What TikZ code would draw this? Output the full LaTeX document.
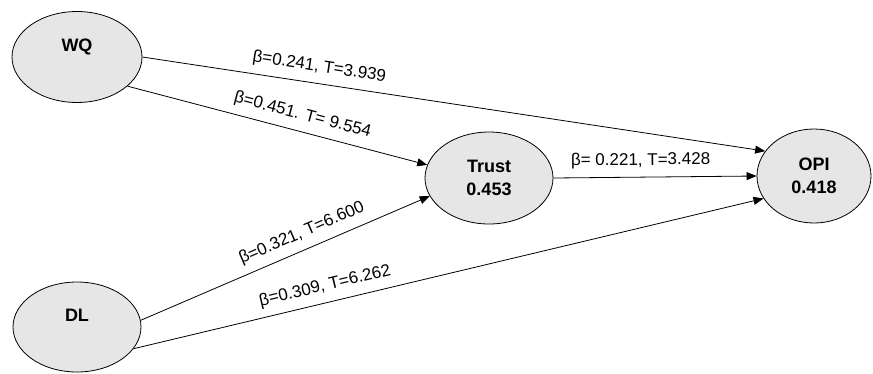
\documentclass[tikz,border=0pt]{standalone}
\usepackage{fontspec}
\setmainfont{Liberation Sans}
\usepackage{tikz}
\usetikzlibrary{shapes,arrows.meta,positioning}
\definecolor{latentfill}{HTML}{E6E6E6}
\tikzstyle{latent}=[ellipse,fill=latentfill,draw=black,line width=0.8pt,align=center,inner sep=3pt,font=\bfseries\fontsize{18}{23}\selectfont]
\tikzstyle{mypath}=[-{Triangle[length=10pt,width=8pt]},line width=0.8pt]
\tikzstyle{coef}=[sloped,above=6pt,inner sep=2pt,font=\fontsize{17}{20}\selectfont]

\begin{document}
\begin{tikzpicture}[x=1pt,y=-1pt]
                \useasboundingbox (0,0) rectangle (873,373);

                \node[latent,minimum width=130pt,minimum height=91pt] (wq) at (77,57) {WQ\\\mbox{}};
                \node[latent,minimum width=128pt,minimum height=90pt] (dl) at (77,327) {DL\\\mbox{}};
                \node[latent,minimum width=128pt,minimum height=92pt] (trust) at (489,178) {Trust\\0.453};
                \node[latent,minimum width=114pt,minimum height=94pt] (opi) at (814,176) {OPI\\0.418};

                \draw[mypath] (wq.east) -- node[coef,pos=0.28] {β=0.241, T=3.939} (opi.153);
                \draw[mypath] (wq.-30) -- node[coef,pos=0.57] {β=0.451. T= 9.554} (trust.168);
                \draw[mypath] (trust.east) -- node[coef,pos=0.43] {β= 0.221, T=3.428} (opi.west);
                \draw[mypath] (dl.6) -- node[coef,pos=0.58] {β=0.321, T=6.600} (trust.-163);
                \draw[mypath] (dl.-21) -- node[coef,pos=0.31] {β=0.309, T=6.262} (opi.-156);
\end{tikzpicture}
\end{document}
